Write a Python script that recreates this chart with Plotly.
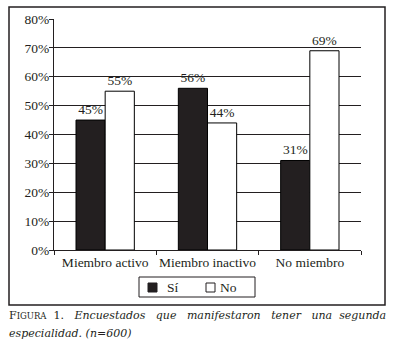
import plotly.graph_objects as go

categories = ["Miembro activo", "Miembro inactivo", "No miembro"]
si_values = [0.45, 0.56, 0.31]
no_values = [0.55, 0.44, 0.69]
si_labels = ["45%", "56%", "31%"]
no_labels = ["55%", "44%", "69%"]
y_tickvals = [0, 0.1, 0.2, 0.3, 0.4, 0.5, 0.6, 0.7, 0.8]
y_ticktext = ["0%", "10%", "20%", "30%", "40%", "50%", "60%", "70%", "80%"]
series_names = ["Sí", "No"]
series_colors = ["#231f20", "#ffffff"]

W, H = 396, 348
L, R, T, B = 54, 35, 19, 98
pw, ph = W - L - R, H - T - B

def px(x):
    return (x - L) / pw

def py(y):
    return (H - B - y) / ph

serif = "Liberation Serif"
ink = "#231f20"
fs = 13.5

fig = go.Figure()
for name, vals, labels, col in [(series_names[0], si_values, si_labels, series_colors[0]),
                                (series_names[1], no_values, no_labels, series_colors[1])]:
    fig.add_trace(go.Bar(
        name=name, x=categories, y=vals, text=labels,
        textposition="outside", cliponaxis=False, showlegend=False,
        marker=dict(color=col, line=dict(color="#000000", width=1)),
        textfont=dict(family=serif, size=fs, color=ink),
    ))

shapes = [
    dict(type="rect", xref="paper", yref="paper",
         x0=px(9), x1=px(385), y0=py(305), y1=py(7),
         line=dict(color=ink, width=1.5), fillcolor="rgba(0,0,0,0)", layer="below"),
    # legend box
    dict(type="rect", xref="paper", yref="paper",
         x0=px(139), x1=px(255), y0=py(297), y1=py(277),
         line=dict(color=ink, width=1), fillcolor="white"),
    dict(type="rect", xref="paper", yref="paper",
         x0=px(148), x1=px(157), y0=py(292), y1=py(283),
         line=dict(color=ink, width=1), fillcolor=series_colors[0]),
    dict(type="rect", xref="paper", yref="paper",
         x0=px(206), x1=px(215), y0=py(292), y1=py(283),
         line=dict(color=ink, width=1), fillcolor=series_colors[1]),
]

g2 = " &nbsp;&nbsp;"
g1 = " &nbsp;"
caption1 = ("F<span style='font-size:8.5px'>IGURA</span>" + g1 + "1." + g2 +
            "<i>Encuestados" + g2 + "que" + g2 + "manifestaron" + g2 + "tener" + g2 +
            "una" + g1 + "segunda</i>")

annotations = [
    dict(xref="paper", yref="paper", x=px(165), y=py(287.5), xanchor="left", yanchor="middle",
         showarrow=False, text=series_names[0], font=dict(family=serif, size=fs, color=ink)),
    dict(xref="paper", yref="paper", x=px(218), y=py(287.5), xanchor="left", yanchor="middle",
         showarrow=False, text=series_names[1], font=dict(family=serif, size=fs, color=ink)),
    dict(xref="paper", yref="paper", x=px(7), y=py(316), xanchor="left", yanchor="middle",
         showarrow=False, align="left", text=caption1,
         font=dict(family="DejaVu Serif", size=11, color=ink)),
    dict(xref="paper", yref="paper", x=px(7), y=py(333), xanchor="left", yanchor="middle",
         showarrow=False, align="left",
         text="<i>especialidad. (n=600)</i>",
         font=dict(family="DejaVu Serif", size=11, color=ink)),
]

fig.update_layout(
    width=W, height=H,
    margin=dict(l=L, r=R, t=T, b=B, pad=0),
    paper_bgcolor="white", plot_bgcolor="white",
    barmode="group", bargap=0.43, bargroupgap=0,
    font=dict(family=serif, size=12, color=ink),
    showlegend=False,
    xaxis=dict(
        showline=True, linecolor=ink, linewidth=1,
        ticks="outside", ticklen=4, tickcolor=ink, tickson="boundaries",
        tickangle=0, automargin=False,
        showgrid=False, tickfont=dict(family=serif, size=fs, color=ink),
    ),
    yaxis=dict(
        range=[0, 0.8], tickvals=y_tickvals, ticktext=y_ticktext,
        showline=True, linecolor=ink, linewidth=1,
        ticks="outside", ticklen=4, tickcolor=ink,
        showgrid=True, gridcolor=ink, gridwidth=1,
        zeroline=False, automargin=False,
        tickfont=dict(family=serif, size=fs, color=ink),
        ticklabelstandoff=-3,
    ),
    shapes=shapes,
    annotations=annotations,
)

fig.write_html("out.html", config={"displayModeBar": False},
               post_script="document.body.style.margin='0';")
